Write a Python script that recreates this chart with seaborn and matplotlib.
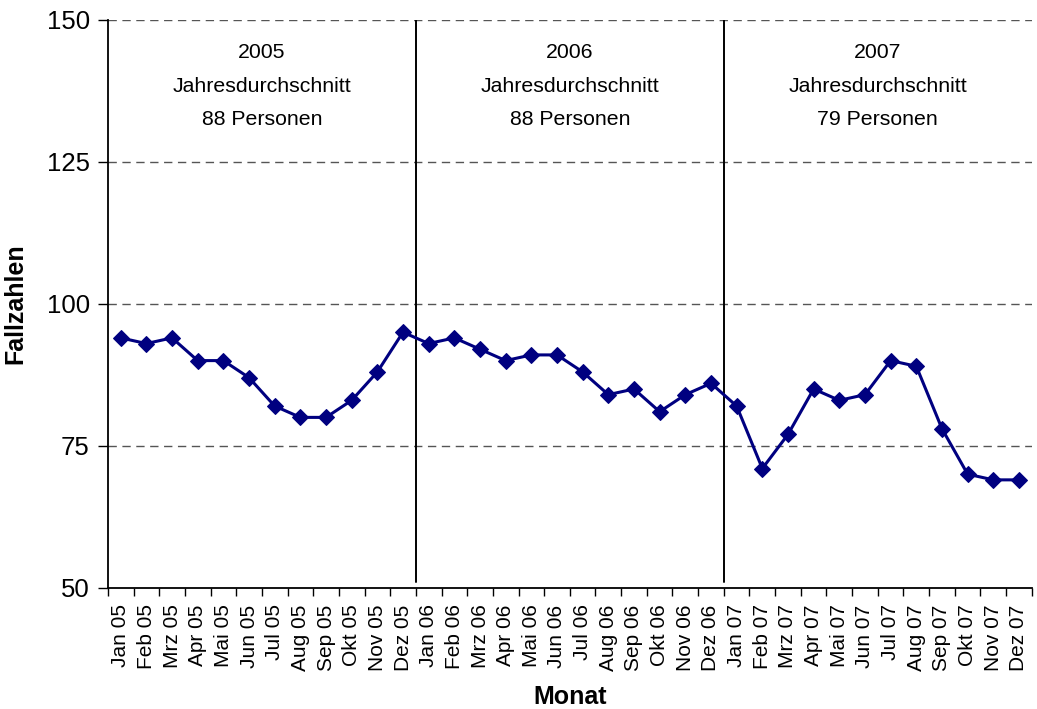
import numpy as np
import pandas as pd
import matplotlib
matplotlib.use("Agg")
import matplotlib.pyplot as plt
import seaborn as sns

# Monthly case counts 2005-2007
months = ["Jan", "Feb", "Mrz", "Apr", "Mai", "Jun",
          "Jul", "Aug", "Sep", "Okt", "Nov", "Dez"]
years = ["05", "06", "07"]
tick_labels = [f"{m} {y}" for y in years for m in months]

values_2005 = [94, 93, 94, 90, 90, 87, 82, 80, 80, 83, 88, 95]
values_2006 = [93, 94, 92, 90, 91, 91, 88, 84, 85, 81, 84, 86]
values_2007 = [82, 71, 77, 85, 83, 84, 90, 89, 78, 70, 69, 69]

year_titles = ["2005", "2006", "2007"]
year_averages = [88, 88, 79]

values = values_2005 + values_2006 + values_2007
df = pd.DataFrame({"idx": np.arange(len(values)), "Fallzahlen": values})

sns.set_style("white")
plt.rcParams["font.family"] = ["Liberation Sans", "DejaVu Sans"]
plt.rcParams["text.color"] = "black"
plt.rcParams["axes.labelcolor"] = "black"
plt.rcParams["xtick.color"] = "black"
plt.rcParams["ytick.color"] = "black"

fig = plt.figure(figsize=(10.37, 7.09), dpi=100)
ax = fig.add_axes([0.104, 0.171, 0.891, 0.801])

sns.lineplot(data=df, x="idx", y="Fallzahlen", ax=ax, color="#000080",
             linewidth=2.2, marker="D", markersize=8,
             markeredgecolor="#000080", markerfacecolor="#000080")

ax.set_xlim(-0.5, len(values) - 0.5)
ax.set_ylim(50, 150)
ax.set_yticks([50, 75, 100, 125, 150])

# dashed horizontal gridlines
for yv in [75, 100, 125, 150]:
    ax.axhline(yv, color="#555555", linewidth=1, linestyle=(0, (6, 4)), zorder=0)

# year separators
for sep in [11.5, 23.5]:
    ax.plot([sep, sep], [51, 150], color="black", linewidth=1.4, zorder=1)

# yearly averages
for i, (title, avg) in enumerate(zip(year_titles, year_averages)):
    xc = i * 12 + 5.5
    ax.text(xc, 145.9, f"{title}\nJahresdurchschnitt\n{avg} Personen",
            ha="center", va="top", fontsize=15.3, linespacing=1.97,
            color="black")

ax.set_xticks(np.arange(len(values)))
ax.set_xticklabels(tick_labels, rotation=90, fontsize=15)
ax.set_xticks(np.arange(-0.5, len(values)), minor=True)
ax.tick_params(axis="x", which="major", bottom=True, length=0, pad=12)
ax.tick_params(axis="x", which="minor", bottom=True, length=6, width=1,
               color="black", direction="out")
ax.tick_params(axis="y", left=True, length=7, width=1, color="black",
               direction="out", labelsize=18.5, pad=6)

for s in ["top", "right"]:
    ax.spines[s].set_visible(False)
for s in ["left", "bottom"]:
    ax.spines[s].set_color("black")
    ax.spines[s].set_linewidth(1.3)

ax.set_xlabel("Monat", fontsize=18, fontweight="bold")
ax.set_ylabel("Fallzahlen", fontsize=18, fontweight="bold")
ax.xaxis.set_label_coords(0.5, -0.172)
ax.yaxis.set_label_coords(-0.087, 0.5)

fig.savefig("out.png", dpi=100)
